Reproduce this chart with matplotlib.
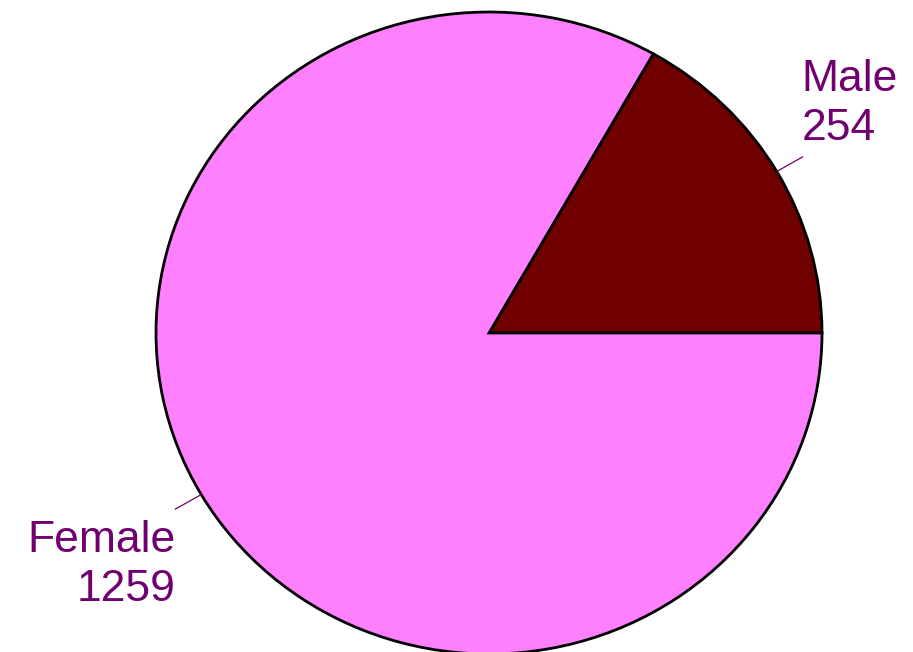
import numpy as np
import matplotlib.pyplot as plt

labels = ["Male", "Female"]
values = [254, 1259]
colors = ["#700000", "#FF80FF"]
text_color = "#700070"

W, H = 913, 652
# the pie in the picture is slightly squashed: 333 px wide radius, 321 px tall
a, b = 333, 321
sy = a / b
fig = plt.figure(figsize=(W / 100, H / 100), dpi=100)
ax = fig.add_axes([0, 0, 1, 1])

cx, cy = 489, (H - 333) * sy
wedges, _ = ax.pie(values, colors=colors, startangle=0, counterclock=True,
                   center=(cx, cy), radius=a, frame=True,
                   wedgeprops=dict(edgecolor="black", linewidth=2.0))
ax.set_xlim(0, W)
ax.set_ylim(0, H * sy)
ax.set_aspect("auto")
ax.axis("off")

for w, lab, v in zip(wedges, labels, values):
    mid = np.deg2rad((w.theta1 + w.theta2) / 2)
    x0, y0 = cx + a * np.cos(mid), cy + a * np.sin(mid)
    x1, y1 = cx + 1.09 * a * np.cos(mid), cy + 1.09 * a * np.sin(mid)
    ax.plot([x0, x1], [y0, y1], color=text_color, lw=0.9)
    # va="baseline" sits on the last line of the label
    if np.cos(mid) > 0:
        ax.text(x1 - 1, y1 + 17 * sy, f"{lab}\n{v}", ha="left", va="baseline",
                multialignment="left", color=text_color, fontsize=32,
                family="Liberation Sans", linespacing=1.24)
    else:
        ax.text(x1, y1 - 92 * sy, f"{lab}\n{v}", ha="right", va="baseline",
                multialignment="right", color=text_color, fontsize=32,
                family="Liberation Sans", linespacing=1.24)

fig.savefig("out.png", dpi=100)
